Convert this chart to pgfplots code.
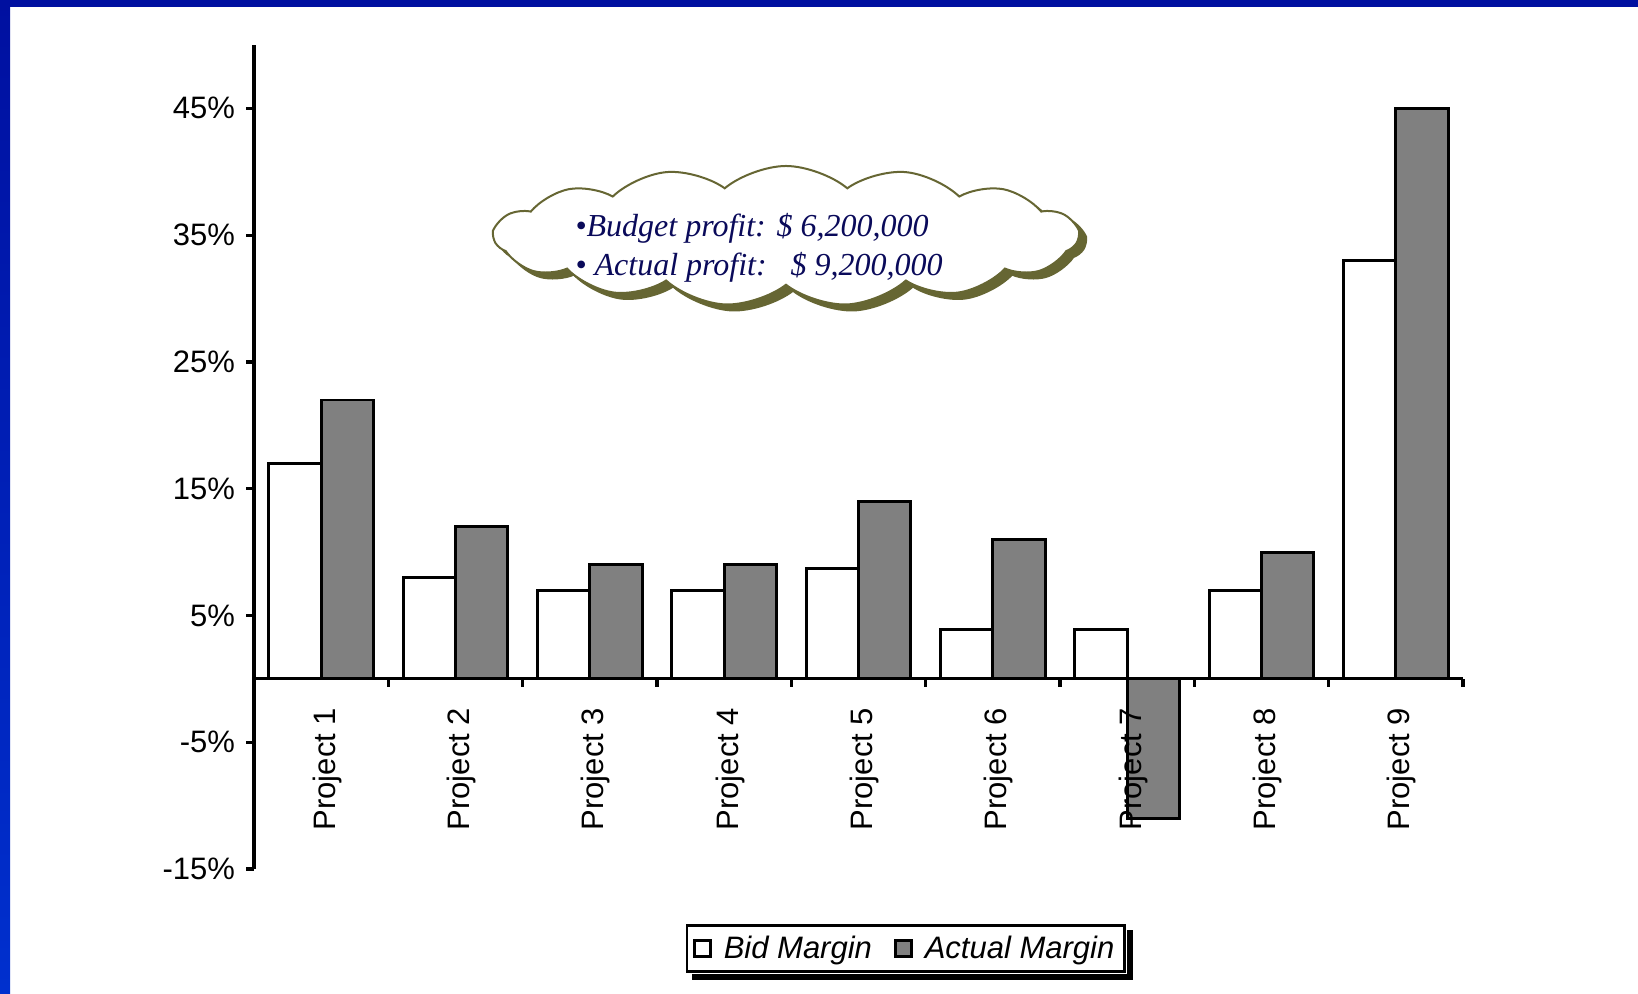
\documentclass[border=0pt]{standalone}
\usepackage{pgfplots}
\pgfplotsset{compat=1.18}
\usepackage{fontspec}
\setmainfont{Liberation Sans}
\newfontfamily\serifit{Liberation Serif}
\usetikzlibrary{shapes.symbols}

\definecolor{slideblue}{RGB}{0,16,160}
\definecolor{slideblueb}{RGB}{0,48,206}
\definecolor{cloudolive}{RGB}{102,102,51}
\definecolor{cloudtext}{RGB}{10,10,90}
\definecolor{bargray}{RGB}{128,128,128}

% Bid and actual margin per project, in percent
\pgfplotstableread{
x bid actual
1 17  22
2 8   12
3 7   9
4 7   9
5 8.7 14
6 3.9 11
7 3.9 -11
8 7   10
9 33  45
}\margins

\begin{document}
\begin{tikzpicture}
\path[use as bounding box] (0,0) rectangle (819pt,497pt);
\begin{scope}[x=0.5pt,y=0.5pt]
  % slide frame
  \fill[white] (0,0) rectangle (1638,994);
  \shade[top color=slideblue,bottom color=slideblueb] (0,0) rectangle (10,994);
  \fill[slideblue] (0,987) rectangle (1638,994);
\end{scope}

\begin{axis}[
  at={(127pt,62.5pt)}, anchor=south west,
  scale only axis, width=604.5pt, height=412pt,
  xmin=0.5, xmax=9.5, ymin=-15, ymax=50,
  axis on top,
  axis y line=left, axis x line=middle,
  axis line style={-, black, line width=1.6pt},
  tick align=outside,
  ytick={-15,-5,5,15,25,35,45},
  yticklabels={-15\%,-5\%,5\%,15\%,25\%,35\%,45\%},
  xtick={1,...,9},
  xticklabels={Project 1,Project 2,Project 3,Project 4,Project 5,Project 6,Project 7,Project 8,Project 9},
  minor xtick={1.5,2.5,...,9.5},
  major x tick style={draw=none},
  minor x tick style={black, line width=1.6pt},
  y tick style={black, line width=1.6pt},
  major tick length=4pt, minor tick length=4pt,
  ticklabel style={font=\fontsize{15.5}{18}\selectfont},
  yticklabel style={xshift=-2pt},
  xticklabel style={rotate=90, anchor=east, xshift=-7pt, yshift=-3pt},
  ybar, bar width=0.39,
  legend columns=2,
  legend style={at={(0.539,-0.0965)}, anchor=center, name=legbox,
    draw=black, line width=1.3pt, fill=white,
    font=\fontsize{15.5}{18}\selectfont\itshape,
    inner xsep=3pt, inner ysep=3pt,
    /tikz/every odd column/.append style={column sep=4pt},
    /tikz/every even column/.append style={column sep=9pt}},
  legend image code/.code={\draw[#1, line width=1.4pt] (0pt,-4pt) rectangle (8pt,4pt);},
]
\addplot[draw=black, fill=white, line width=1.45pt, bar shift=-0.195] table[x=x,y=bid] {\margins};
\addlegendentry{Bid Margin}
\addplot[draw=black, fill=bargray, line width=1.45pt, bar shift=0.195] table[x=x,y=actual] {\margins};
\addlegendentry{Actual Margin}
\end{axis}

% shadow of the legend box
\fill[black] ([xshift=0.65pt,yshift=-3pt]legbox.north east) rectangle ([xshift=3.65pt,yshift=-3pt]legbox.south east);
\fill[black] ([xshift=3pt,yshift=-0.65pt]legbox.south west) rectangle ([xshift=3.65pt,yshift=-3.65pt]legbox.south east);

\begin{scope}[x=0.5pt,y=0.5pt]
  % callout cloud with its shadow
  \node[cloud, cloud puffs=15, cloud puff arc=80, cloud ignores aspect, minimum width=292pt, minimum height=70pt,
        fill=cloudolive, draw=cloudolive, line width=1pt] at (793,752) {};
  \node[cloud, cloud puffs=15, cloud puff arc=80, cloud ignores aspect, minimum width=292pt, minimum height=70pt,
        fill=white, draw=cloudolive, line width=1pt] at (786,758) {};
  \node[anchor=base west, inner sep=0pt, text=cloudtext, font=\serifit\itshape\fontsize{16}{19}\selectfont]
    at (575,757) {•Budget profit: \$ 6,200,000};
  \node[anchor=base west, inner sep=0pt, text=cloudtext, font=\serifit\itshape\fontsize{16}{19}\selectfont]
    at (575,718) {• Actual profit:\ \ \ \$ 9,200,000};
\end{scope}
\end{tikzpicture}
\end{document}
